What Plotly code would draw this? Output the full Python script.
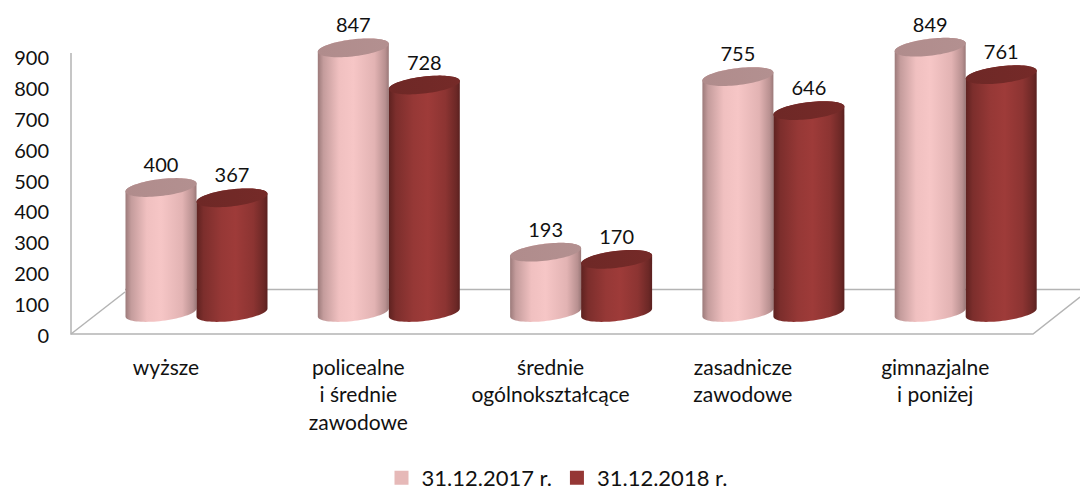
import numpy as np
import plotly.graph_objects as go

categories = ["wyższe", "policealne<br>i średnie<br>zawodowe", "średnie<br>ogólnokształcące",
              "zasadnicze<br>zawodowe", "gimnazjalne<br>i poniżej"]
series_2017 = [400, 847, 193, 755, 849]
series_2018 = [367, 728, 170, 646, 761]
name_2017 = "31.12.2017 r."
name_2018 = "31.12.2018 r."
y_ticks = [0, 100, 200, 300, 400, 500, 600, 700, 800, 900]

W, H = 1080, 489
ML, MB = 52, 136
PX_X = 192.3      # px per category
PX_Y = 0.309      # px per value unit
X0 = 166          # px of category 0
Y0 = 336          # px of value 0
FONT = "Lato"

xr = [(ML - X0) / PX_X, (W - X0) / PX_X]
yr = [(Y0 - (H - MB)) / PX_Y, Y0 / PX_Y]

BASE = (Y0 - 312.5) / PX_Y       # floor depth offset of the cylinder base
PERSP = 1.0113                   # front plane is drawn slightly larger than the axis
HALF_W = 35.5 / PX_X
B = 8.5 / PX_Y
TILT = 4.0 / PX_Y
OFF = {0: -5 / PX_X, 1: 66 / PX_X}

STY = {
    0: dict(body=[[0, "#9c7a7a"], [0.08, "#c49c9c"], [0.3, "#f0c0c0"], [0.5, "#f6c6c6"],
                  [0.8, "#e2b3b3"], [0.95, "#b89090"], [1, "#9a7878"]],
            top=[[0, "#b08c8c"], [1, "#b39090"]], legend="#E6B9B8"),
    1: dict(body=[[0, "#5e2220"], [0.1, "#7c2e2c"], [0.35, "#963836"], [0.55, "#9e3b39"],
                  [0.8, "#8c3432"], [0.95, "#6c2826"], [1, "#5a201f"]],
            top=[[0, "#6e2826"], [1, "#752a28"]], legend="#953735"),
}


def ell(cx, cy, t):
    return cx + HALF_W * np.cos(t), cy + B * np.sin(t) + TILT * np.cos(t)


fig = go.Figure()

# walls and floor of the chart
def px(v):
    return (v - X0) / PX_X


def py(v):
    return (Y0 - v) / PX_Y


floor_x = [px(71), px(71), px(1033), px(1080), None, px(71), px(125), None, px(125), xr[1]]
floor_y = [py(53), py(334), py(334), py(297), None, py(334), py(292), None, py(289.5), py(289.5)]
fig.add_trace(go.Scatter(x=floor_x, y=floor_y, mode="lines", line=dict(color="#b4b4b4", width=1.5),
                         showlegend=False, hoverinfo="skip"))

for s, vals in enumerate([series_2017, series_2018]):
    sty = STY[s]
    for i, v in enumerate(vals):
        cx = i + OFF[s]
        top = BASE + v * PERSP
        t_low = np.linspace(np.pi, 2 * np.pi, 40)
        t_up = np.linspace(0, np.pi, 40)
        bx, by = ell(cx, BASE, t_low)
        tx, ty = ell(cx, top, t_up)
        fig.add_trace(go.Scatter(
            x=np.concatenate([bx, tx]), y=np.concatenate([by, ty]), mode="none", fill="toself",
            fillgradient=dict(type="horizontal", colorscale=sty["body"]),
            showlegend=False, hoverinfo="skip"))
        t_all = np.linspace(0, 2 * np.pi, 80)
        ex, ey = ell(cx, top, t_all)
        fig.add_trace(go.Scatter(
            x=ex, y=ey, mode="none", fill="toself",
            fillgradient=dict(type="horizontal", colorscale=sty["top"]),
            showlegend=False, hoverinfo="skip"))

# value labels
for s, vals in enumerate([series_2017, series_2018]):
    fig.add_trace(go.Scatter(
        x=[i + OFF[s] for i in range(len(vals))],
        y=[BASE + v * PERSP + 10.5 / PX_Y for v in vals],
        text=[str(v) for v in vals], mode="text", textposition="top center",
        textfont=dict(family=FONT, size=20, color="#111111"),
        showlegend=False, hoverinfo="skip", cliponaxis=False))

# legend
for s, nm in enumerate([name_2017, name_2018]):
    fig.add_trace(go.Scatter(x=[None], y=[None], mode="markers", name=nm,
                             marker=dict(symbol="square", size=14, color=STY[s]["legend"])))

fig.update_layout(
    width=W, height=H, autosize=False,
    margin=dict(l=ML, r=0, t=0, b=MB, pad=0, autoexpand=False),
    paper_bgcolor="white", plot_bgcolor="white",
    font=dict(family=FONT, size=20, color="#111111"),
    xaxis=dict(range=xr, tickmode="array", tickvals=list(range(len(categories))), ticktext=categories,
               showgrid=False, zeroline=False, showline=False, ticks="", tickfont=dict(family=FONT, size=21)),
    yaxis=dict(range=yr, tickmode="array", tickvals=y_ticks, ticktext=[str(t) for t in y_ticks],
               showgrid=False, zeroline=False, showline=False, ticks="", ticklabelstandoff=2,
               tickfont=dict(family=FONT, size=20)),
    legend=dict(orientation="h", x=557 / W, xref="container", xanchor="center",
                y=1 - 478 / H, yref="container", yanchor="middle",
                font=dict(family=FONT, size=22), bgcolor="rgba(0,0,0,0)", itemwidth=30,
                borderwidth=0),
    showlegend=True,
)
fig.write_html("out.html", config=dict(displayModeBar=False),
               post_script="document.body.style.margin='0';document.documentElement.style.overflow='hidden';")
